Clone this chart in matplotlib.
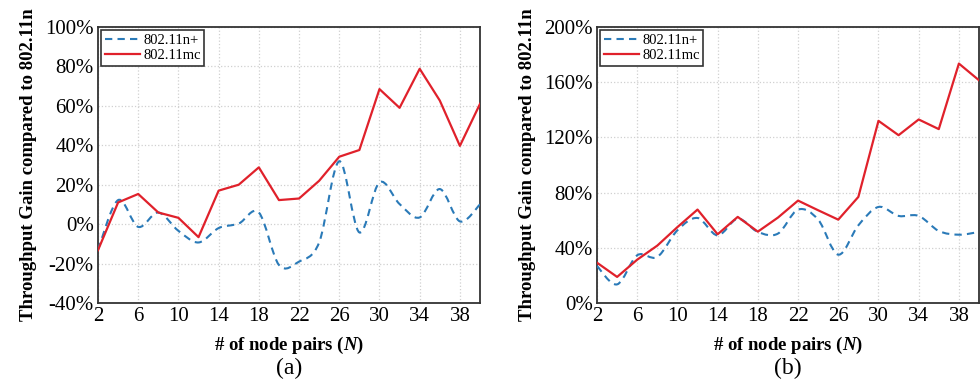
import numpy as np
import matplotlib
matplotlib.use("Agg")
import matplotlib.pyplot as plt
from matplotlib.path import Path
from matplotlib.patches import PathPatch
from matplotlib.lines import Line2D
from matplotlib.ticker import FuncFormatter

plt.rcParams['font.family'] = ['Liberation Serif', 'DejaVu Serif']
plt.rcParams['mathtext.fontset'] = 'custom'
plt.rcParams['mathtext.it'] = 'Liberation Serif:italic:bold'
plt.rcParams['mathtext.rm'] = 'Liberation Serif:bold'

# 节点对数
node_pairs = list(range(2, 41, 2))

# (a) 吞吐量增益 (%)
gain_a_nplus = [-13, 12.2, -1.4, 5.9, -3.4, -9.3, -2, 0.3, 5.9, -20.7,
                -19, -9.3, 31.9, -4.2, 21.2, 10.2, 3.4, 17.8, 1.4, 10]
gain_a_mc = [-13.2, 11, 15.3, 5.9, 3.2, -6.6, 17, 20, 28.8, 12.2,
             13, 22, 34.2, 37.6, 68.5, 59, 78.8, 62.7, 39.7, 61]

# (b) 吞吐量增益 (%)
gain_b_nplus = [26.8, 13.5, 34.6, 33.4, 52.7, 61.6, 49, 61.1, 51.5, 50.3,
                67.7, 60.4, 35, 56.3, 69.6, 63.1, 63.1, 52.2, 49.5, 51.5]
gain_b_mc = [29.2, 18.9, 31.4, 41.6, 55, 67.7, 49.8, 62.4, 51.7, 61.9,
             74.2, 67.2, 60.4, 76.9, 132, 121.6, 133, 126, 173.5, 161.4]

BLUE = '#2a7ab8'
RED = '#e0212b'


def smooth_path(x, y):
    # Catmull-Rom 转成贝塞尔曲线
    x = np.asarray(x, float)
    y = np.asarray(y, float)
    verts = [(x[0], y[0])]
    codes = [Path.MOVETO]
    n = len(x)
    for i in range(n - 1):
        i0 = max(i - 1, 0)
        i3 = min(i + 2, n - 1)
        c1 = (x[i] + (x[i + 1] - x[i0]) / 6, y[i] + (y[i + 1] - y[i0]) / 6)
        c2 = (x[i + 1] - (x[i3] - x[i]) / 6, y[i + 1] - (y[i3] - y[i]) / 6)
        verts += [c1, c2, (x[i + 1], y[i + 1])]
        codes += [Path.CURVE4] * 3
    return Path(verts, codes)


def draw_panel(ax, nplus, mc, ylim, yticks, tag):
    patch = PathPatch(smooth_path(node_pairs, nplus), fill=False,
                      edgecolor=BLUE, lw=1.5, linestyle=(0, (3.5, 2.5)), zorder=3)
    ax.add_patch(patch)
    ax.plot(node_pairs, mc, color=RED, lw=1.6, zorder=4)

    ax.set_xlim(2, 40)
    ax.set_ylim(*ylim)
    ax.set_xticks(range(2, 40, 4))
    ax.set_yticks(yticks)
    ax.yaxis.set_major_formatter(FuncFormatter(lambda v, p: f'{v:.0f}%'))
    ax.tick_params(labelsize=15, length=0, pad=3)
    ax.grid(True, color='#d0d0d0', linestyle=':', lw=0.9)
    for s in ax.spines.values():
        s.set_color('#333333')
        s.set_linewidth(1.3)

    ax.set_ylabel('Throughput Gain compared to 802.11n', fontsize=13.5,
                  fontweight='bold', labelpad=6)
    ax.set_xlabel('# of node pairs ($N$)', fontsize=13.5, fontweight='bold',
                  labelpad=6)
    bb = ax.get_position()
    fig.text((bb.x0 + bb.x1) / 2, 1 - 368 / 383, tag, ha='center',
             va='center', fontsize=17)

    handles = [Line2D([], [], color=BLUE, lw=1.5, linestyle=(0, (3.5, 2.5))),
               Line2D([], [], color=RED, lw=1.6)]
    leg = ax.legend(handles, ['802.11n+', '802.11mc'], loc='upper left',
                    fontsize=10.5, fancybox=False, framealpha=1,
                    edgecolor='#333333', borderpad=0.25, labelspacing=0.15,
                    handlelength=2.4, handletextpad=0.25, borderaxespad=0.2,
                    bbox_to_anchor=(0.0, 1.0))
    leg.get_frame().set_linewidth(1.2)


fig = plt.figure(figsize=(9.8, 3.83), dpi=100)
ax1 = fig.add_axes([98 / 980, 1 - 303 / 383, 382 / 980, 276 / 383])
ax2 = fig.add_axes([597 / 980, 1 - 303 / 383, 382 / 980, 276 / 383])

draw_panel(ax1, gain_a_nplus, gain_a_mc, (-40, 100), range(-40, 101, 20), '(a)')
draw_panel(ax2, gain_b_nplus, gain_b_mc, (0, 200), range(0, 201, 40), '(b)')

fig.savefig('out.png', dpi=100)
